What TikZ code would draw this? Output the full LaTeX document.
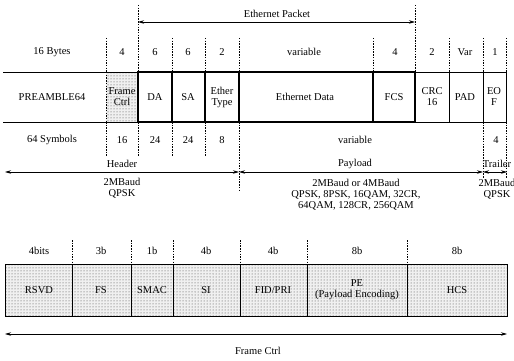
\documentclass[tikz,border=0pt]{standalone}
\usepackage{fontspec}
\setmainfont{Liberation Serif}
\usetikzlibrary{arrows.meta,patterns}
\begin{document}
\begin{tikzpicture}[x=1pt,y=-1pt,
  lbl/.style={font=\fontsize{10.5}{11}\selectfont, inner sep=0pt, align=center},
  ln/.style={line width=0.7pt},
  thk/.style={line width=2pt},
  dsh/.style={line width=0.6pt, dash pattern=on 1.5pt off 1.2pt},
  dim/.style={line width=0.7pt, {Stealth[length=6pt,width=3.5pt]}-{Stealth[length=6pt,width=3.5pt]}},
  stip/.style={fill=black!6, postaction={pattern=dots, pattern color=black!75}}
]
\useasboundingbox (0,0) rectangle (514,361);

% ---------- Ethernet packet dimension ----------
\coordinate (ep1) at (138,22);
\coordinate (ep2) at (415,22);
\draw[dim] (ep1) -- (ep2);
\node[lbl] (ethpkt) at (277,14) {Ethernet Packet};

% ---------- top dashed guides ----------
\draw[dsh] (138,5) -- (138,72);
\draw[dsh] (415,5) -- (415,72);
\foreach \x in {106,172,205,239,373,449,483,506}
  \draw[dsh] (\x,38) -- (\x,72);

% ---------- byte counts ----------
\node[lbl] (b0) at (52,52) {16 Bytes};
\node[lbl] (b1) at (122,52) {4};
\node[lbl] (b2) at (155,52) {6};
\node[lbl] (b3) at (188,52) {6};
\node[lbl] (b4) at (222,52) {2};
\node[lbl] (b5) at (304,52) {variable};
\node[lbl] (b6) at (395,52) {4};
\node[lbl] (b7) at (432,52) {2};
\node[lbl] (b8) at (465,52) {Var};
\node[lbl] (b9) at (495,52) {1};

% ---------- frame row ----------
\path[stip] (106,72) rectangle (138,122);
\draw[dsh] (106,72) -- (106,122);
\draw[ln] (3,72) -- (506,72);
\draw[ln] (3,122) -- (506,122);
\draw[ln] (449,72) -- (449,122);
\draw[ln] (483,72) -- (483,122);
\draw[ln] (506,72) -- (506,122);
\draw[thk] (138,72) rectangle (415,122);
\foreach \x in {172,205,239,373}
  \draw[thk] (\x,72) -- (\x,122);

\node[lbl] (c0) at (52,97) {PREAMBLE64};
\node[lbl] (c1) at (122,97) {Frame\\Ctrl};
\node[lbl] (c2) at (155,97) {DA};
\node[lbl] (c3) at (188,97) {SA};
\node[lbl] (c4) at (222,97) {Ether\\Type};
\node[lbl] (c5) at (305,97) {Ethernet Data};
\node[lbl] (c6) at (394,97) {FCS};
\node[lbl] (c7) at (432,97) {CRC\\16};
\node[lbl] (c8) at (465,97) {PAD};
\node[lbl] (c9) at (494,97) {EO\\F};

% ---------- bottom dashed guides ----------
\foreach \x in {106,138,172,205}
  \draw[dsh] (\x,122) -- (\x,156);
\draw[dsh] (239,122) -- (239,190);
\draw[dsh] (483,122) -- (483,178);
\draw[dsh] (506,122) -- (506,178);

% ---------- symbol counts ----------
\node[lbl] (s0) at (52,140) {64 Symbols};
\node[lbl] (s1) at (122,140) {16};
\node[lbl] (s2) at (155,140) {24};
\node[lbl] (s3) at (188,140) {24};
\node[lbl] (s4) at (222,140) {8};
\node[lbl] (s5) at (355,140) {variable};
\node[lbl] (s6) at (496,140) {4};

% ---------- header / payload / trailer ----------
\coordinate (h1) at (5,172);
\coordinate (h2) at (239,172);
\coordinate (p2) at (483,172);
\coordinate (t2) at (507,172);
\draw[dim] (h1) -- (h2);
\draw[dim] (h2) -- (p2);
\draw[dim] (p2) -- (t2);
\node[lbl] (hdr) at (122,164) {Header};
\node[lbl] (pay) at (355,164) {Payload};
\node[lbl] (trl) at (497,164) {Trailer};

\node[lbl, anchor=north] (hmod) at (122,178) {2MBaud\\QPSK};
\node[lbl, anchor=north] (pmod) at (356,179) {2MBaud or 4MBaud\\QPSK, 8PSK, 16QAM, 32CR,\\64QAM, 128CR, 256QAM};
\node[lbl, anchor=north] (tmod) at (497,179) {2MBaud\\QPSK};

% ---------- Frame Ctrl detail ----------
\foreach \x in {72,131,173,240,307,407}
  \draw[dsh] (\x,240) -- (\x,264);
\node[lbl] (f0) at (39,251) {4bits};
\node[lbl] (f1) at (101,251) {3b};
\node[lbl] (f2) at (152,251) {1b};
\node[lbl] (f3) at (206,251) {4b};
\node[lbl] (f4) at (273,251) {4b};
\node[lbl] (f5) at (357,251) {8b};
\node[lbl] (f6) at (457,251) {8b};

\path[stip] (5,264) rectangle (507,316);
\draw[ln] (5,264) rectangle (507,316);
\foreach \x in {72,131,173,240,307,407}
  \draw[ln] (\x,264) -- (\x,316);

\node[lbl] (g0) at (39,290) {RSVD};
\node[lbl] (g1) at (101,290) {FS};
\node[lbl] (g2) at (152,290) {SMAC};
\node[lbl] (g3) at (206,290) {SI};
\node[lbl] (g4) at (273,290) {FID/PRI};
\node[lbl] (g5) at (357,290) {PE\\(Payload Encoding)};
\node[lbl] (g6) at (457,290) {HCS};

\coordinate (fc1) at (5,334);
\coordinate (fc2) at (507,334);
\draw[dim] (fc1) -- (fc2);
\node[lbl] (fclab) at (258,351) {Frame Ctrl};
\end{tikzpicture}
\end{document}
